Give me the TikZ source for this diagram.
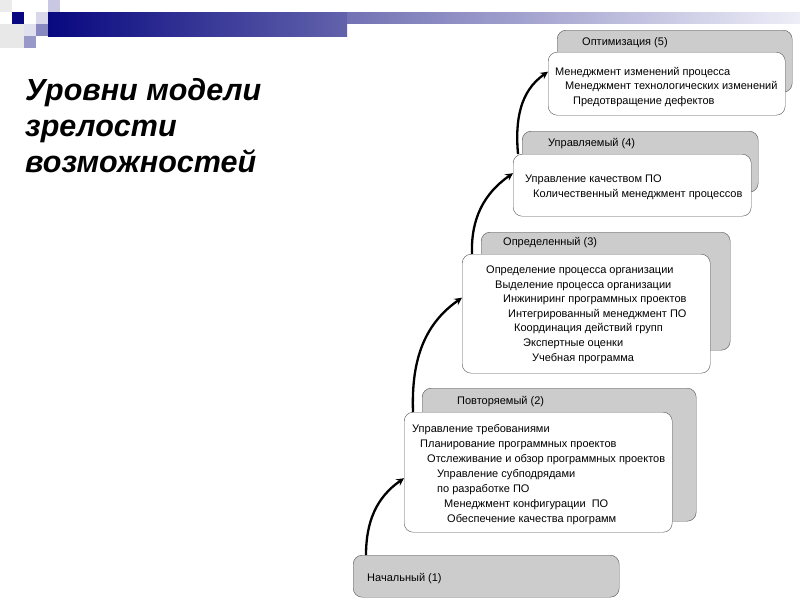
\documentclass[tikz,border=0pt]{standalone}
\usepackage{fontspec}
\setmainfont{Liberation Sans}
\definecolor{barnavy}{RGB}{8,8,128}
\definecolor{barmid}{RGB}{98,98,172}
\definecolor{barpale}{RGB}{238,238,248}
\definecolor{boxgray}{RGB}{204,204,204}
\definecolor{linegray}{RGB}{85,85,85}

\begin{document}
\begin{tikzpicture}[x=1pt,y=-1pt]

%
% Styles
%
\tikzstyle{level}   = [draw=linegray,fill=boxgray,rounded corners=9pt,anchor=north west,inner sep=0pt]
\tikzstyle{detail}  = [draw=linegray,fill=white,rounded corners=9pt,anchor=north west,inner sep=0pt]
\tikzstyle{caption} = [anchor=base west,inner sep=0pt,font=\fontsize{11}{13}\selectfont]

\tikzstyle{edge}    = [->,>=stealth,line width=2.3pt]

\useasboundingbox (0,0) rectangle (800,600);

% slide decoration
\fill[black!8]        (0,0)   rectangle (12,12);
\fill[black!9]        (0,24)  rectangle (24,48);
\fill[barnavy]        (12,12) rectangle (24,24);
\fill[barmid!35]      (48,0)  rectangle (60,12);
\fill[barmid!25]      (36,12) rectangle (48,24);
\fill[barmid!20]      (24,24) rectangle (36,36);
\fill[barmid!75]      (36,24) rectangle (48,36);
\fill[barmid!65]      (24,36) rectangle (36,48);
\shade[left color=barnavy,right color=barmid] (48,12) rectangle (347,36);
\shade[left color=barmid!90,right color=barpale] (347,12) rectangle (800,23);

\node[anchor=north west,inner sep=0pt,align=left,
      font=\fontsize{30.5}{36}\selectfont\bfseries\itshape] (title) at (25,78)
      {Уровни модели\\зрелости\\возможностей};

% levels
\node[level,  minimum width=266pt, minimum height=42pt]  (b1)  at (353,555) {};
\node[level,  minimum width=274pt, minimum height=133pt] (g2)  at (422,388) {};
\node[detail, minimum width=268pt, minimum height=120pt] (b2)  at (404,412) {};
\node[level,  minimum width=249pt, minimum height=118pt] (g3)  at (481,232) {};
\node[detail, minimum width=248pt, minimum height=119pt] (b3)  at (462,254) {};
\node[level,  minimum width=236pt, minimum height=61pt]  (g4)  at (522,131) {};
\node[detail, minimum width=238pt, minimum height=62pt]  (b4)  at (513,154) {};
\node[level,  minimum width=235pt, minimum height=62pt]  (g5)  at (557,30)  {};
\node[detail, minimum width=237pt, minimum height=63pt]  (b5)  at (548,52)  {};

\node[caption] (l1) at (367,581) {Начальный (1)};
\node[caption] (l2) at (457,404) {Повторяемый (2)};
\node[caption] (l3) at (503,245) {Определенный (3)};
\node[caption] (l4) at (548,146) {Управляемый (4)};
\node[caption] (l5) at (582,45)  {Оптимизация (5)};

\node[caption] (t21) at (412,432) {Управление требованиями};
\node[caption] (t22) at (420,447) {Планирование программных проектов};
\node[caption] (t23) at (427,462) {Отслеживание и обзор программных проектов};
\node[caption] (t24) at (437,477) {Управление субподрядами};
\node[caption] (t25) at (437,492) {по разработке ПО};
\node[caption] (t26) at (444,507) {Менеджмент конфигурации\ \ ПО};
\node[caption] (t27) at (447,522) {Обеспечение качества программ};

\node[caption] (t31) at (486,273) {Определение процесса организации};
\node[caption] (t32) at (495,288) {Выделение процесса организации};
\node[caption] (t33) at (503,302) {Инжиниринг программных проектов};
\node[caption] (t34) at (508,317) {Интегрированный менеджмент ПО};
\node[caption] (t35) at (514,331) {Координация действий групп};
\node[caption] (t36) at (523,346) {Экспертные оценки};
\node[caption] (t37) at (532,361) {Учебная программа};

\node[caption] (t41) at (525,182) {Управление качеством ПО};
\node[caption] (t42) at (533,197) {Количественный менеджмент процессов};

\node[caption] (t51) at (555,75)  {Менеджмент изменений процесса};
\node[caption] (t52) at (565,89)  {Менеджмент технологических изменений};
\node[caption] (t53) at (573,104) {Предотвращение дефектов};

\draw[edge] ([xshift=13pt]b1.north west) to[out=90,in=215] ([yshift=-6pt]b2.west);
\draw[edge] ([xshift=9pt]b2.north west)  to[out=92,in=215] ([yshift=16pt]b3.west);
\draw[edge] ([xshift=10pt]b3.north west) to[out=92,in=215] ([yshift=12pt]b4.west);
\draw[edge] ([xshift=5pt]b4.north west)  to[out=95,in=215] ([yshift=12pt]b5.west);

\end{tikzpicture}
\end{document}
